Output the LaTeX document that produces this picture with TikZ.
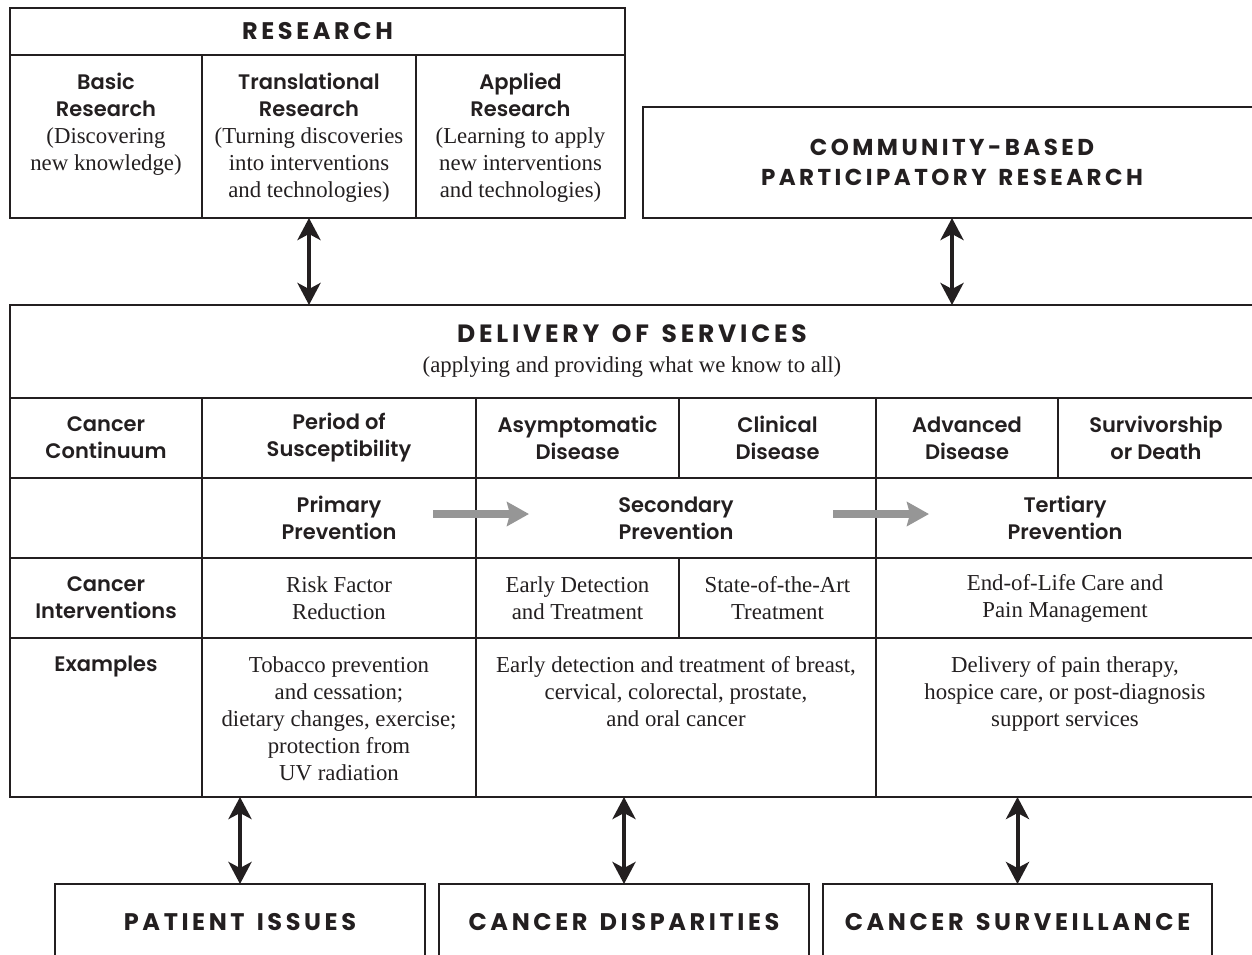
\documentclass[tikz,border=0pt]{standalone}
\usepackage{fontspec}
\setmainfont{Liberation Serif}
\newfontfamily\gotham{Poppins}[BoldFont={Poppins SemiBold}]
\newfontfamily\gothamcaps{Poppins}[LetterSpace=15,WordSpace=1.4]
\usepackage{xcolor}
\definecolor{tinta}{RGB}{35,31,32}
\definecolor{grisFlecha}{RGB}{150,150,150}
\usepackage{tikz}
\usetikzlibrary{arrows.meta,positioning,fit}
\newcommand{\lbl}[1]{{\gotham\bfseries\fontsize{10.5}{13.5}\selectfont #1}}
\tikzstyle{cell}  =[draw=tinta, line width=0.8pt, inner sep=0pt,
                    outer sep=0pt]
\tikzstyle{txt}   =[inner sep=0pt, align=center, text=tinta,
                    font=\fontsize{11.4}{13.5}\selectfont]
\tikzstyle{lbltxt}=[txt, font=\gotham\bfseries\fontsize{10.5}{13.5}\selectfont]
\tikzstyle{titulo}=[txt, font=\gothamcaps\bfseries\fontsize{12}{15}\selectfont]
\tikzstyle{link}  =[{Stealth[length=11pt,width=11.5pt,inset=3pt]}-{Stealth[length=11pt,width=11.5pt,inset=3pt]},
                    line width=2pt, tinta]
\tikzstyle{paso}  =[-{Stealth[length=11pt,width=12pt,inset=1.5pt]},
                    line width=4pt, grisFlecha]

\begin{document}
\begin{tikzpicture}[x=0.5pt,y=-0.5pt]
    \useasboundingbox (0,0) rectangle (1252,954);
    \clip (0,0) rectangle (1252,954);

    % research block
    \node[cell, fit={(10,8) (625,55)}] (research) {};
    \node[titulo] (research-t) at (research.center) {RESEARCH};
    \foreach \nm/\xa/\xb in {basic/10/202, transl/202/416, applied/416/625}
        \node[cell, fit={(\xa,55) (\xb,218)}] (\nm) {};
    \node[txt, below=9pt of basic.north] (basic-t)
        {\lbl{Basic}\\\lbl{Research}\\(Discovering\\new knowledge)};
    \node[txt, below=9pt of transl.north] (transl-t)
        {\lbl{Translational}\\\lbl{Research}\\(Turning discoveries\\into interventions\\and technologies)};
    \node[txt, below=9pt of applied.north] (applied-t)
        {\lbl{Applied}\\\lbl{Research}\\(Learning to apply\\new interventions\\and technologies)};

    \node[cell, fit={(643,107) (1261,218)}] (cbpr) {};
    \node[titulo, font=\gothamcaps\bfseries\fontsize{11.5}{15}\selectfont] (cbpr-t)
        at (cbpr.center) {COMMUNITY-BASED\\PARTICIPATORY RESEARCH};

    % delivery of services
    \node[cell, fit={(10,305) (1254,797)}] (delivery) {};
    \node[cell, fit={(10,305) (1254,398)}] (deliveryhead) {};
    \node[txt] (deliveryhead-t) at (deliveryhead.center)
        {{\gothamcaps\bfseries\fontsize{12.5}{15}\selectfont DELIVERY OF SERVICES}\\[1.5pt]
         (applying and providing what we know to all)};

    \foreach \nm/\xa/\ya/\xb/\yb/\txt in {
        cont/10/398/202/478/Cancer\\Continuum,
        period/202/398/476/478/Period of\\Susceptibility,
        asym/476/398/679/478/Asymptomatic\\Disease,
        clin/679/398/876/478/Clinical\\Disease,
        adv/876/398/1058/478/Advanced\\Disease,
        surv/1058/398/1254/478/Survivorship\\or Death,
        blank/10/478/202/558/,
        prim/202/478/476/558/Primary\\Prevention,
        sec/476/478/876/558/Secondary\\Prevention,
        ter/876/478/1254/558/Tertiary\\Prevention,
        interv/10/558/202/638/Cancer\\Interventions}
    {
        \node[cell, fit={(\xa,\ya) (\xb,\yb)}] (\nm) {};
        \node[lbltxt] (\nm-t) at (\nm.center) {\txt};
    }

    \foreach \nm/\xa/\xb/\txt in {
        risk/202/476/Risk Factor\\Reduction,
        early/476/679/Early Detection\\and Treatment,
        soa/679/876/State-of-the-Art\\Treatment,
        eol/876/1254/End-of-Life Care and\\Pain Management}
    {
        \node[cell, fit={(\xa,558) (\xb,638)}] (\nm) {};
        \node[txt] (\nm-t) at (\nm.center) {\txt};
    }

    \foreach \nm/\xa/\xb in {ex0/10/202, ex1/202/476, ex2/476/876, ex3/876/1254}
        \node[cell, fit={(\xa,638) (\xb,797)}] (\nm) {};
    \node[txt, below=9pt of ex0.north] (ex0-t) {\lbl{Examples}};
    \node[txt, below=9pt of ex1.north] (ex1-t)
        {Tobacco prevention\\and cessation;\\dietary changes, exercise;\\protection from\\UV radiation};
    \node[txt, below=9pt of ex2.north] (ex2-t)
        {Early detection and treatment of breast,\\cervical, colorectal, prostate,\\and oral cancer};
    \node[txt, below=9pt of ex3.north] (ex3-t)
        {Delivery of pain therapy,\\hospice care, or post-diagnosis\\support services};

    % prevention steps
    \coordinate (p1) at (433,514);
    \coordinate (p2) at (529,514);
    \coordinate (p3) at (833,514);
    \coordinate (p4) at (929,514);
    \draw[paso] (p1) -- (p2);
    \draw[paso] (p3) -- (p4);

    % bottom boxes
    \foreach \nm/\xa/\xb/\txt in {patient/55/425/PATIENT ISSUES,
        disparities/439/809/CANCER DISPARITIES,
        surveillance/823/1212/CANCER SURVEILLANCE}
    {
        \node[cell, fit={(\xa,884) (\xb,960)}] (\nm) {};
        \node[titulo] (\nm-t) at (\nm.center) {\txt};
    }

    % links
    \draw[link] (transl.south) -- (transl.south |- delivery.north);
    \draw[link] (cbpr.south) -- (cbpr.south |- delivery.north);
    \foreach \b in {patient, disparities, surveillance}
        \draw[link] (\b.north) -- (\b.north |- delivery.south);

\end{tikzpicture}
\end{document}
